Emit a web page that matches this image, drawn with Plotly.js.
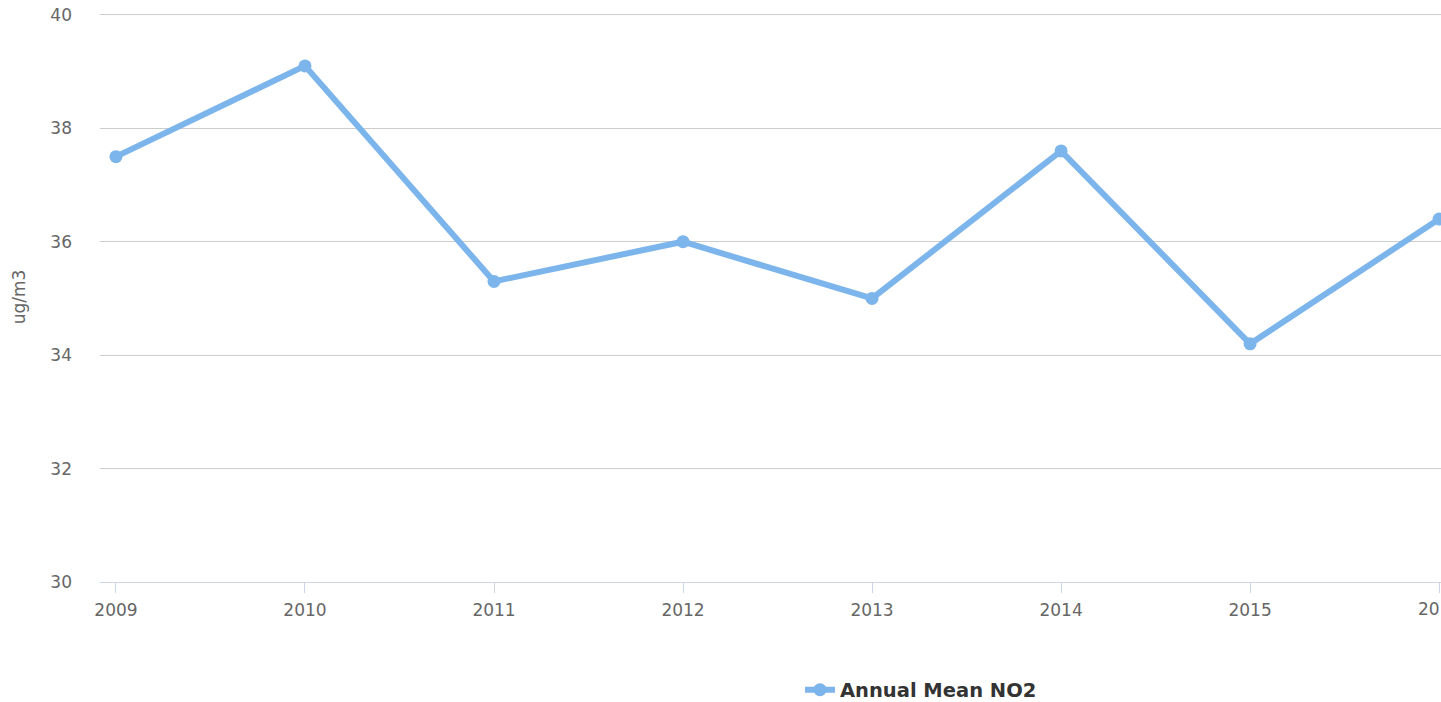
<!DOCTYPE html>
<html>
<head>
<meta charset="utf-8">
<script src="https://cdn.plot.ly/plotly-3.0.1.min.js"></script>
<style>html,body{margin:0;padding:0;background:#fff;}#chart{width:1441px;height:702px;}</style>
</head>
<body>
<div id="chart"></div>
<script>
const years = [2009, 2010, 2011, 2012, 2013, 2014, 2015, 2016];
const no2 = [37.5, 39.1, 35.3, 36.0, 35.0, 37.6, 34.2, 36.4];
const yTicks = [30, 32, 34, 36, 38, 40];
const seriesName = 'Annual Mean NO2';

const trace = {
  x: years, y: no2, name: seriesName, type: 'scatter', mode: 'lines+markers',
  line: {color: '#7cb5ec', width: 6},
  marker: {color: '#7cb5ec', size: 13},
  cliponaxis: false,
  showlegend: true
};

const lastYear = years[years.length - 1];

const layout = {
  width: 1441, height: 702,
  margin: {l: 100, r: 0, t: 12, b: 120, autoexpand: false},
  paper_bgcolor: '#fff', plot_bgcolor: '#fff',
  font: {family: '"DejaVu Sans", sans-serif', size: 17, color: '#666'},
  showlegend: true,
  legend: {
    orientation: 'h', x: 0.522, xanchor: 'left', xref: 'paper',
    y: 0.0171, yanchor: 'middle', yref: 'container',
    font: {family: '"DejaVu Sans", sans-serif', size: 19.5, color: '#333', weight: 'bold'},
    bgcolor: 'rgba(0,0,0,0)'
  },
  xaxis: {
    range: [2008.9156, 2016.01],
    tickvals: years, ticktext: years.map((y, i) => i === years.length - 1 ? '' : String(y)),
    showgrid: false, zeroline: false, automargin: false,
    showline: true, linecolor: '#ccd6eb', linewidth: 1,
    ticks: 'outside', ticklen: 10, tickcolor: '#ccd6eb', tickwidth: 1,
    ticklabelstandoff: 3,
    tickfont: {size: 17, color: '#666'}
  },
  yaxis: {
    range: [30, 40.05], tickvals: yTicks,
    showgrid: true, gridcolor: '#cccccc', gridwidth: 1,
    zeroline: false, showline: false, ticks: '', automargin: false,
    ticklabelstandoff: 27,
    tickfont: {size: 17, color: '#666'},
    title: {text: 'ug/m3', font: {size: 17, color: '#666'}, standoff: 20}
  },
  annotations: [{
    x: lastYear, xref: 'x', y: 30, yref: 'y', yanchor: 'top', xanchor: 'center',
    yshift: -15, text: String(lastYear), showarrow: false,
    font: {size: 17, color: '#666'}
  }]
};

Plotly.newPlot('chart', [trace], layout, {displayModeBar: false, responsive: false});
</script>
</body>
</html>
